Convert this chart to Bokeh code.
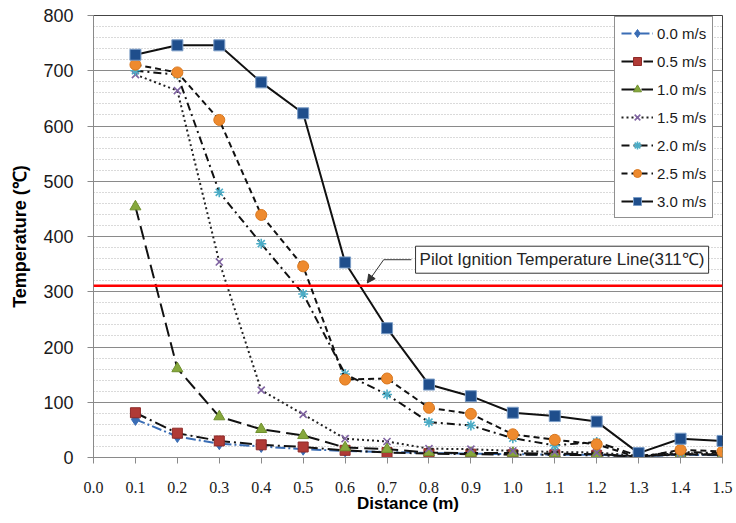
from bokeh.plotting import figure
from bokeh.models import FixedTicker, NumeralTickFormatter, Span, Label, Arrow, NormalHead
from bokeh.embed import file_html
from bokeh.resources import INLINE

# ---- data ----
distance = [0.1, 0.2, 0.3, 0.4, 0.5, 0.6, 0.7, 0.8, 0.9, 1.0, 1.1, 1.2, 1.3, 1.4, 1.5]
v00 = [69, 38, 25, 20, 15, 12, 10, 8, 7, 6, 5, 5, 2, 5, 4]
v05 = [81, 44, 30, 23, 19, 13, 9, 7, 6, 5, 5, 4, 2, 6, 5]
v10 = [454, 161, 74, 51, 40, 18, 15, 9, 8, 8, 7, 6, 2, 6, 5]
v15 = [693, 664, 354, 122, 78, 34, 29, 16, 15, 12, 10, 9, 3, 8, 6]
v20 = [700, 693, 480, 387, 296, 151, 114, 64, 58, 35, 22, 28, 3, 10, 8]
v25 = [711, 697, 611, 439, 346, 141, 143, 90, 79, 42, 32, 24, 0, 14, 11]
v30 = [729, 746, 746, 679, 623, 353, 234, 132, 111, 81, 75, 65, 8, 34, 30]
series_labels = ["0.0 m/s", "0.5 m/s", "1.0 m/s", "1.5 m/s", "2.0 m/s", "2.5 m/s", "3.0 m/s"]
x_ticks = [0.0, 0.1, 0.2, 0.3, 0.4, 0.5, 0.6, 0.7, 0.8, 0.9, 1.0, 1.1, 1.2, 1.3, 1.4, 1.5]
y_ticks = [0, 100, 200, 300, 400, 500, 600, 700, 800]
y_minor = list(range(0, 801, 20))
PILOT_TEMP = 311
pilot_text = "Pilot Ignition Temperature Line(311\u2103)"

# ---- styles ----
styles = [
    dict(color="#3A6DB5", dash="10 3 2 3", marker="diamond", size=12, fill="#3A6DB5", mline="#3A6DB5"),
    dict(color="#111111", dash="12 4 2 4", marker="square", size=10, fill="#B03A36", mline="#8E2A28"),
    dict(color="#111111", dash="14 6", marker="triangle", size=11, fill="#86A83C", mline="#6F8F2E"),
    dict(color="#222222", dash="2 3", marker="x", size=10, fill="#8064A2", mline="#8064A2"),
    dict(color="#111111", dash="8 4 2 4", marker="asterisk", size=10, fill="#4BACC6", mline="#4BACC6"),
    dict(color="#111111", dash="6 4", marker="circle", size=11, fill="#EE8A2E", mline="#D9781F"),
    dict(color="#111111", dash="solid", marker="square", size=11, fill="#1F4E8C", mline="#7A9CC6"),
]
all_series = [v00, v05, v10, v15, v20, v25, v30]

p = figure(width=736, height=523, output_backend="svg", toolbar_location=None,
           x_range=(0, 1.5), y_range=(0, 800),
           min_border_left=93, min_border_right=14, min_border_top=15, min_border_bottom=66)
p.background_fill_color = "white"
p.border_fill_color = "white"
p.outline_line_color = "#444444"
p.outline_line_width = 1

# grid
p.xgrid.grid_line_color = None
p.ygrid.ticker = FixedTicker(ticks=y_ticks, minor_ticks=y_minor)
p.ygrid.grid_line_color = "#8a8a8a"
p.ygrid.grid_line_width = 1
p.ygrid.minor_grid_line_color = "#b5b5b5"
p.ygrid.minor_grid_line_dash = "1 2"

# axes
p.xaxis.ticker = FixedTicker(ticks=x_ticks)
p.xaxis.formatter = NumeralTickFormatter(format="0.0")
p.yaxis.ticker = FixedTicker(ticks=y_ticks)
for ax in (p.xaxis, p.yaxis):
    ax.axis_line_color = "#8a8a8a"
    ax.major_tick_line_color = "#8a8a8a"
    ax.major_tick_out = 6
    ax.major_tick_in = 0
    ax.minor_tick_line_color = None
    ax.major_label_text_color = "#1a1a1a"
    ax.axis_label_text_font = "Liberation Sans"
    ax.axis_label_text_font_style = "bold"
    ax.axis_label_text_color = "#000000"
p.xaxis.major_label_text_font = "Liberation Serif"
p.xaxis.major_label_text_font_size = "16px"
p.xaxis.major_label_standoff = 18
p.xaxis.axis_label = "Distance (m)"
p.xaxis.axis_label_text_font_size = "17px"
p.xaxis.axis_label_standoff = -2
p.yaxis.major_label_text_font = "Liberation Sans"
p.yaxis.major_label_text_font_size = "18px"
p.yaxis.major_label_standoff = 14
p.yaxis.axis_label = "Temperature (\u2103)"
p.yaxis.axis_label_text_font_size = "18px"
p.yaxis.axis_label_standoff = 10

# pilot line
p.add_layout(Span(location=PILOT_TEMP, dimension="width", line_color="#FF0000", line_width=2.5))

# series
for vals, lab, st in zip(all_series, series_labels, styles):
    p.line(distance, vals, line_color=st["color"], line_width=2, line_dash=st["dash"], legend_label=lab)
    if st["marker"] in ("x", "asterisk"):
        p.scatter(distance, vals, marker=st["marker"], size=st["size"], line_color=st["fill"],
                  line_width=1.6, legend_label=lab)
    else:
        p.scatter(distance, vals, marker=st["marker"], size=st["size"], fill_color=st["fill"],
                  line_color=st["mline"], line_width=1, legend_label=lab)

# annotation
BOX_X, LABEL_X, LABEL_Y = 0.758, 0.768, 358
BEND_X = 0.692
TIP_X, TIP_Y = 0.653, 316
p.segment(x0=[BOX_X], y0=[LABEL_Y], x1=[BEND_X], y1=[LABEL_Y], line_color="#333333", line_width=1)
p.add_layout(Arrow(end=NormalHead(size=8, fill_color="#333333", line_color="#333333"),
                   x_start=BEND_X, y_start=LABEL_Y, x_end=TIP_X, y_end=TIP_Y,
                   line_color="#333333", line_width=1))
p.add_layout(Label(x=LABEL_X, y=LABEL_Y, text=pilot_text, text_font="Liberation Sans",
                   text_font_size="17px", text_color="#262626", text_baseline="middle",
                   border_line_color="#333333", border_line_width=1,
                   background_fill_color="white", padding=4))

# legend
lg = p.legend[0]
lg.location = (521, 239)
lg.margin = 0
lg.border_line_color = "#222222"
lg.border_line_width = 1
lg.background_fill_color = "white"
lg.background_fill_alpha = 1
lg.label_text_font = "Liberation Sans"
lg.label_text_font_size = "15px"
lg.label_text_color = "#1a1a1a"
lg.glyph_width = 32
lg.glyph_height = 20
lg.label_height = 20
lg.spacing = 8
lg.padding = 6
lg.label_standoff = 4

open("out.html", "w").write(file_html(p, INLINE))
